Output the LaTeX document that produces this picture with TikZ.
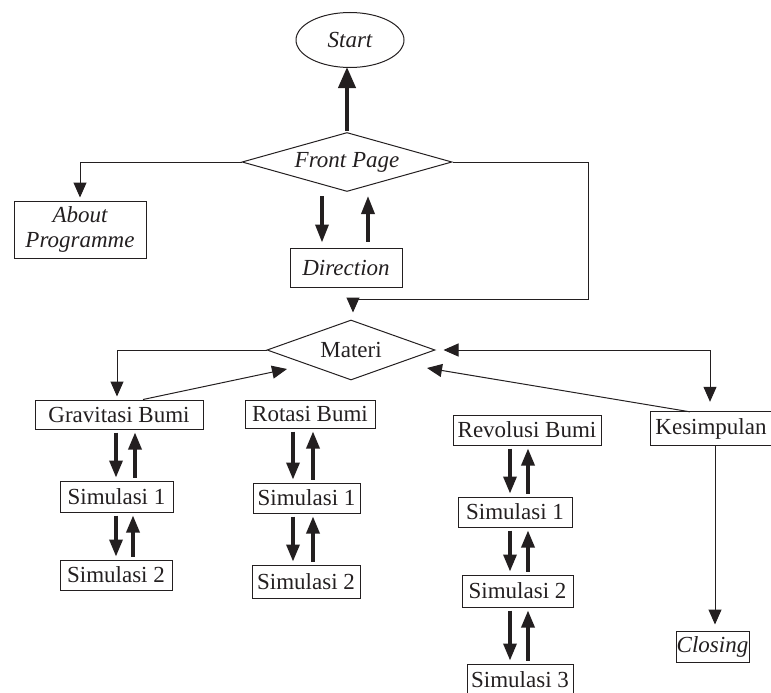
\documentclass[tikz,border=0pt]{standalone}
\usepackage{fontspec}
\setmainfont{Liberation Serif}
\usetikzlibrary{arrows.meta,shapes.geometric,calc}
\definecolor{ink}{HTML}{231F20}

% a pair of heavy arrows: down from #1 to #2 at offset #3, back up at offset #4
\newcommand\linkpair[4]{%
  \draw[heavy] ([xshift=#3]#1.south) -- ([xshift=#3]#1.south |- #2.north);
  \draw[heavy] ([xshift=#4]#1.south |- #2.north) -- ([xshift=#4]#1.south);
}

\begin{document}
\begin{tikzpicture}[x=1pt,y=-1pt,
  every node/.style={font=\fontsize{23}{25}\selectfont, text=ink, inner sep=0pt},
  box/.style={draw=ink, line width=1pt, rectangle},
  decision/.style={draw=ink, line width=1pt, diamond, aspect=3},
  thin/.style={draw=ink, line width=1pt, -{Triangle[length=15pt,width=13pt]}},
  heavy/.style={draw=ink, line width=3.3pt, shorten <=3pt, shorten >=3pt,
    -{Triangle[length=17pt,width=13pt]}},
]
\useasboundingbox (0,0) rectangle (771,693);
\clip (0,0) rectangle (771,693);

% nodes
\node[ellipse, draw=ink, line width=1pt, minimum width=108pt, minimum height=55pt]
  (start) at (350,40) {\itshape Start};
\node[decision, minimum width=210pt, minimum height=59pt] (front) at (347,162) {\itshape Front Page};
\node[box, minimum width=132pt, minimum height=57pt, align=center] (about) at (80,229.5)
  {\itshape About\\\itshape Programme};
\node[box, minimum width=112pt, minimum height=39pt] (dir) at (346,267.5) {\itshape Direction};
\node[decision, minimum width=168pt, minimum height=60pt] (materi) at (351,350) {Materi};

\node[box, minimum width=168pt, minimum height=29pt] (grav) at (119,414.5) {Gravitasi Bumi};
\node[box, minimum width=113pt, minimum height=31pt] (gs1) at (116.5,496.5) {Simulasi 1};
\node[box, minimum width=112pt, minimum height=30pt] (gs2) at (116,575) {Simulasi 2};

\node[box, minimum width=130pt, minimum height=28pt] (rot) at (310,414) {Rotasi Bumi};
\node[box, minimum width=107pt, minimum height=30pt] (rs1) at (306.5,498) {Simulasi 1};
\node[box, minimum width=108pt, minimum height=33pt] (rs2) at (306,581.5) {Simulasi 2};

\node[box, minimum width=148pt, minimum height=30pt] (rev) at (527,430) {Revolusi Bumi};
\node[box, minimum width=114pt, minimum height=30pt] (vs1) at (515,512) {Simulasi 1};
\node[box, minimum width=111pt, minimum height=32pt] (vs2) at (517.5,591) {Simulasi 2};
\node[box, minimum width=106pt, minimum height=32pt] (vs3) at (520,680) {Simulasi 3};

% this box runs on past the right edge: the node holds the label, the frame is drawn wider
\node[minimum width=120pt, minimum height=33pt] (kes) at (711,428.5) {Kesimpulan};
\draw[ink, line width=1pt] (kes.north west) rectangle ($(kes.south east)+(20,0)$);
\node[box, minimum width=73pt, minimum height=31pt] (closing) at (712.5,646.5) {\itshape Closing};

% top part
\draw[draw=ink, line width=4pt, shorten <=1pt, shorten >=-1pt,
  -{Triangle[length=21pt,width=17pt]}] (front.north) -- (front.north |- start.south);
\draw[thin, shorten >=3pt] (front.west) -| (about.north);
\draw[heavy, shorten <=4pt, shorten >=5pt, -{Triangle[length=18pt,width=13pt]}]
  ([xshift=-25pt]front.south) -- ([xshift=-25pt]front.south |- dir.north);
\draw[heavy, shorten <=6pt, shorten >=4pt, -{Triangle[length=18pt,width=13pt]}]
  ([xshift=22pt]dir.north) -- ([xshift=22pt]dir.north |- front.south);
\coordinate (bend) at (588,299);
\draw[thin, shorten >=7pt] (front.east) -| (bend) -| ([xshift=2pt]materi.north);

% materi and its topics
\draw[thin, shorten >=3pt] (materi.west) -| ([xshift=-2pt]grav.north);
\draw[thin] ([xshift=24pt]grav.north) -- ($(materi)+(-64,19)$);
\draw[thin] ([xshift=-21pt]kes.north) -- ($(materi)+(76,18)$);
\draw[draw=ink, line width=1pt, shorten <=8pt, shorten >=10pt,
  {Triangle[length=15pt,width=13pt]}-{Triangle[length=15pt,width=13pt]}]
  (materi.east) -| ([xshift=-1pt]kes.north);
\draw[thin, shorten >=6pt] ([xshift=4pt]kes.south) -- ([xshift=4pt]kes.south |- closing.north);

% simulations
\linkpair{grav}{gs1}{-3pt}{16pt}
\linkpair{gs1}{gs2}{-0.5pt}{16.5pt}
\linkpair{rot}{rs1}{-17pt}{3pt}
\linkpair{rs1}{rs2}{-13.5pt}{6.5pt}
\linkpair{rev}{vs1}{-17pt}{1pt}
\linkpair{vs1}{vs2}{-5pt}{13pt}
\linkpair{vs2}{vs3}{-7.5pt}{10.5pt}
\end{tikzpicture}
\end{document}
